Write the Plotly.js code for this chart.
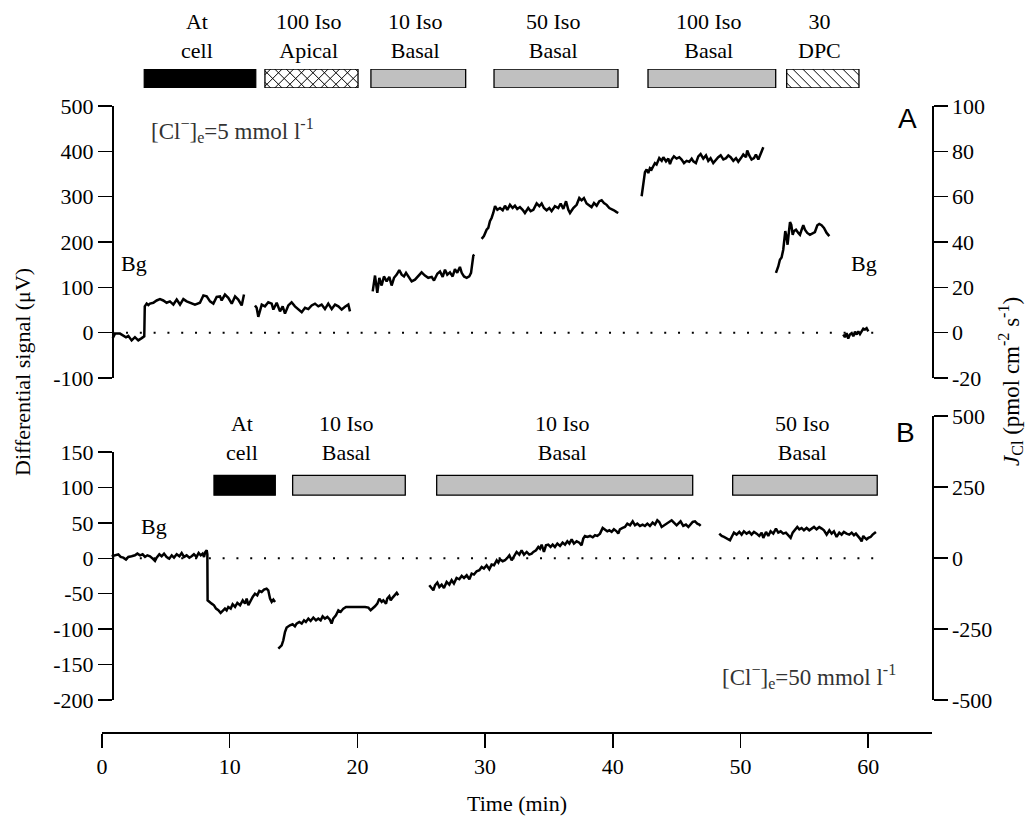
<!DOCTYPE html>
<html>
<head>
<meta charset="utf-8">
<script src="https://cdn.plot.ly/plotly-3.0.1.min.js"></script>
<style>html,body{margin:0;padding:0;background:#fff;}#chart{width:1031px;height:819px;}</style>
</head>
<body>
<div id="chart"></div>
<script>
// ---------------- DATA ----------------
// Panel A ([Cl-]e = 5 mmol l-1), time in min, differential signal in µV
const aBgCellT = [0.84,1.02,1.41,1.67,1.88,2.06,2.32,2.58,2.84,3.11,3.31,3.35,3.5,3.63,3.76,4.02,4.28,4.54,4.8,5.06,5.32,5.59,5.85,6.11,6.37,6.63,6.89,7.28,7.67,7.94,8.2,8.46,8.72,8.98,9.24,9.37,9.63,9.89,10.16,10.42,10.67,10.94,11.12];
const aBgCellV = [-12,-2,-2,-7,-10,-7,-17,-10,-17,-12,-8,58,64,61,64,66,71,74,71,66,69,62,73,62,74,69,66,62,66,82,80,69,64,79,80,71,84,77,64,80,73,60,84];
const aApicalT = [11.98,12.11,12.24,12.37,12.51,12.76,13.02,13.29,13.42,13.68,13.94,14.15,14.33,14.59,14.85,15.11,15.37,15.64,15.9,16.16,16.42,16.68,16.94,17.2,17.46,17.72,17.99,18.25,18.51,18.77,19.03,19.29,19.42];
const aApicalV = [60,55,35,51,62,58,67,64,51,66,47,58,42,60,67,58,52,45,55,52,60,64,58,62,52,64,52,62,58,51,57,62,47];
const aIso10T = [21.2,21.38,21.56,21.72,21.9,22.08,22.29,22.5,22.68,22.87,23.08,23.28,23.47,23.65,23.81,23.99,24.25,24.51,24.77,25.03,25.29,25.55,25.82,26,26.26,26.47,26.68,26.86,27.04,27.25,27.46,27.64,27.82,28.03,28.17,28.35,28.56,28.76,28.9,28.95,29.03,29.08,29.16];
const aIso10V = [91,126,88,121,104,124,113,123,104,121,128,138,128,124,132,123,113,117,124,133,126,121,123,115,130,135,123,139,128,133,124,140,132,145,132,124,121,124,132,143,157,170,172];
const aIso50T = [29.73,29.91,30.12,30.25,30.38,30.51,30.64,30.78,30.96,31.17,31.38,31.56,31.74,31.95,32.16,32.34,32.52,32.73,32.94,33.12,33.38,33.57,33.78,34.04,34.25,34.43,34.61,34.82,35.03,35.21,35.47,35.73,35.92,36.13,36.34,36.52,36.65,36.91,37.17,37.38,37.56,37.74,37.95,38.16,38.34,38.53,38.74,38.95,39.13,39.31,39.52,39.73,39.91,40.09,40.3,40.43];
const aIso50V = [207,213,227,231,246,253,264,279,271,275,270,280,271,282,275,280,273,277,271,264,275,268,271,285,279,285,275,270,275,268,279,275,285,273,290,271,264,275,282,297,292,297,285,280,277,286,280,290,292,286,282,275,273,270,266,264];
const aIso100T = [42.26,42.34,42.44,42.52,42.65,42.78,42.91,43.04,43.17,43.3,43.43,43.64,43.83,43.96,44.17,44.35,44.48,44.61,44.79,45,45.21,45.39,45.58,45.78,45.99,46.18,46.31,46.51,46.7,46.88,47.09,47.3,47.48,47.66,47.87,48.08,48.26,48.45,48.66,48.87,49.05,49.23,49.44,49.65,49.83,50.01,50.22,50.43,50.53,50.69,50.87,51.06,51.21,51.4,51.53,51.66,51.79];
const aIso100V = [301,316,341,354,360,352,363,360,367,374,371,385,379,387,378,384,372,382,389,384,387,382,374,379,377,384,378,374,389,394,384,391,379,385,374,382,387,391,382,385,391,387,379,385,377,384,393,387,402,391,382,385,393,382,391,400,409];
const aDpcT = [52.78,52.96,53.09,53.22,53.35,53.43,53.51,53.62,53.69,53.77,53.88,53.98,54.09,54.19,54.35,54.53,54.66,54.79,54.92,55.05,55.23,55.44,55.65,55.83,56.02,56.17,56.35,56.54,56.75,56.96];
const aDpcV = [132,146,161,166,183,202,224,209,194,216,244,238,216,224,227,220,216,227,237,227,220,216,220,222,237,240,237,231,220,213];
const aBgEndT = [58.05,58.18,58.31,58.44,58.57,58.71,58.84,58.97,59.1,59.23,59.36,59.49,59.62,59.75,59.88,60.01];
const aBgEndV = [-4,-10,-1,-13,-4,-1,-8,2,-4,3,-3,4,9,7,10,3];

// Panel B ([Cl-]e = 50 mmol l-1)
const bBgCellT = [0.76,1.02,1.28,1.46,1.67,1.88,2.06,2.32,2.58,2.77,2.98,3.18,3.37,3.55,3.76,3.97,4.15,4.28,4.49,4.67,4.86,5.06,5.27,5.46,5.64,5.85,6.06,6.24,6.42,6.63,6.84,7.02,7.2,7.41,7.57,7.73,7.88,7.99,8.09,8.2,8.25,
  8.27,8.4,8.59,8.77,8.93,9.11,9.29,9.45,9.63,9.76,9.89,10.08,10.23,10.42,10.6,10.81,11.02,11.2,11.33,11.46,11.59,11.8,11.98,12.16,12.32,12.5,12.69,12.89,13.02,13.16,13.29,13.42,13.55];
const bBgCellV = [2.8,4.2,5.6,1.9,0.9,-1.9,1.9,2.8,4.2,6.6,4.2,5.6,1.9,4.2,2.8,-0.5,-3.8,0.9,5.6,2.8,6.6,1.9,-0.5,4.2,0.9,5.6,2.8,7.5,1.9,4.2,0.9,2.8,5.6,1.9,7.5,4.2,6.6,1.9,8.9,11.3,5.6,
  -59.3,-61.6,-64,-66.3,-71,-73.4,-77.1,-74.3,-71,-73.4,-68.7,-71,-64.9,-68.7,-63,-66.3,-59.3,-64,-56.9,-66.3,-61.6,-54.6,-49.9,-52.2,-46.1,-47.5,-44.2,-42.8,-45.2,-56.9,-61.6,-58.3,-61.6];
const bIso10aT = [13.81,13.94,14.07,14.2,14.33,14.46,14.59,14.72,14.93,15.11,15.24,15.45,15.64,15.82,15.97,16.16,16.34,16.55,16.76,16.94,17.12,17.28,17.46,17.65,17.85,17.98,18.11,18.32,18.51,18.69,18.9,19.11,20.6,20.86,21.04,21.2,21.38,21.56,21.72,21.9,22.03,22.24,22.34,22.5,22.61,22.76,22.94,23.08,23.2];
const bIso10aV = [-127.5,-125.1,-122.8,-115.7,-104,-97.8,-96,-94.6,-93.1,-96,-92.2,-89.9,-92.2,-87.5,-89.9,-85.1,-88.4,-83.7,-87.5,-85.1,-87.5,-81.9,-85.1,-82.8,-86.6,-92.2,-85.1,-80.4,-73.4,-75.7,-71,-68.7,-68.7,-69.6,-73.4,-71,-67.7,-64,-56.9,-61.6,-59.3,-64,-56.9,-53.6,-59.3,-55.5,-52.2,-48.9,-52.2];
const bIso10bT = [25.63,25.82,25.95,26.08,26.26,26.42,26.6,26.78,26.99,27.2,27.38,27.56,27.77,27.98,28.17,28.35,28.56,28.77,28.95,29.13,29.34,29.55,29.73,29.91,30.12,30.33,30.51,30.7,30.91,31.04,31.17,31.38,31.56,31.74,31.9,32.08,32.26,32.47,32.68,32.86,33.05,33.26,33.46,33.65,33.78,33.99,34.17,34.3,34.43,34.61,34.77,34.95,35.13,35.29,35.47,35.66,35.87,36.07,36.26,36.44,36.6,36.78,36.96,37.17,37.38,37.56,37.69,37.82,38.01,38.22,38.43,38.61,38.79,39,39.21,39.39,39.57,39.73,39.91,40.09,40.3,40.43,40.56,40.77,40.95,41.14,41.35,41.56,41.74,41.92,42.13,42.34,42.52,42.71,42.91,43.12,43.3,43.49,43.64,43.83,44.01,44.22,44.43,44.61,44.79,45,45.13,45.31,45.52,45.73,45.92,46.1,46.26,46.44,46.62,46.78,46.88];
const bIso10bV = [-38.1,-42.8,-45.2,-38.1,-34.3,-40.5,-37.2,-41.9,-33.4,-37.2,-31,-35.7,-27.8,-29.6,-24.9,-27.8,-24,-29.6,-21.6,-23,-18.3,-16.9,-12.2,-14.6,-9.9,-15.5,-8.9,-9.9,-2.8,-6.1,-1.4,-4.2,-2.8,0.5,4.2,-2.8,3.3,8.9,5.2,11.3,5.2,8.9,5.2,6.6,8.9,11.3,16,13.6,19.3,8.9,18.3,19.3,16,19.3,16,20.7,17.4,22.1,19.3,24,20.7,26.8,20.7,24,22.1,18.3,27.8,31.5,30.1,31.5,29.6,32.5,31.5,34.8,42.8,40.9,38.1,39.5,37.2,40.9,38.1,34.8,40.9,42.8,44.2,48.9,46.6,52.2,46.6,48.9,45.6,47.5,45.6,48.9,45.6,50.3,47.5,53.6,51.3,44.2,46.6,48.9,51.3,53.6,50.3,46.6,48.9,52.2,45.6,47.5,44.2,48.9,51.3,52.2,48.9,47.5,45.6];
const bIso50T = [48.34,48.53,48.71,48.86,49.05,49.18,49.31,49.49,49.7,49.91,50.09,50.27,50.48,50.69,50.87,51.06,51.27,51.47,51.66,51.79,52,52.18,52.36,52.57,52.78,52.96,53.15,53.35,53.56,53.75,53.93,54.09,54.27,54.45,54.61,54.79,54.97,55.18,55.39,55.57,55.76,55.96,56.17,56.36,56.54,56.75,56.96,57.14,57.32,57.53,57.74,57.92,58.1,58.31,58.52,58.71,58.89,59.04,59.23,59.36,59.49,59.62,59.75,59.88,60.01,60.19,60.35,60.48,60.61];
const bIso50V = [34.8,31.5,30.1,28.7,27.8,25.4,30.1,36.2,33.4,37.2,33.4,38.1,34.8,37.2,33.4,37.2,34.8,31.5,36.2,28.7,37.2,31.5,38.1,34.8,41.9,36.2,38.1,34.8,36.2,32.5,28.7,36.2,39.5,44.2,40.9,42.8,39.5,42.8,39.5,41.9,44.2,40.9,44.2,41.9,39.5,33.4,39.5,34.8,38.1,30.1,36.2,33.4,37.2,34.8,33.4,36.2,32.5,34.8,31.5,27.8,24,31.5,28.7,26.8,28.7,30.1,33.4,34.8,37.2];

// Treatment periods (min) and their labels
const treatAStart = [3.31,12.76,21.06,30.70,42.76,53.62];
const treatAEnd   = [12.04,20.05,28.48,40.41,52.76,59.28];
const treatALabels = ['At<br>cell','100 Iso<br>Apical','10 Iso<br>Basal','50 Iso<br>Basal','100 Iso<br>Basal','30<br>DPC'];
const treatBStart = [8.77,14.93,26.21,49.39];
const treatBEnd   = [13.57,23.75,46.26,60.71];
const treatBLabels = ['At<br>cell','10 Iso<br>Basal','10 Iso<br>Basal','50 Iso<br>Basal'];

// Tick values / labels
const xTicks = [0,10,20,30,40,50,60];
const aLeftTicks = [-100,0,100,200,300,400,500];
const aRightTicks = [-20,0,20,40,60,80,100];
const bLeftTicks = [-200,-150,-100,-50,0,50,100,150];
const bRightTicks = [-500,-250,0,250,500];
const zeroLineSpan = [0.8, 61.2];

// ---------------- STYLE / LAYOUT ----------------
const W = 1031, H = 819, ML = 102, MR = 99, MT = 10, MB = 87;
const PW = W - ML - MR, PH = H - MT - MB;
const X_MAX = 65;
const pxX = p => (p - ML) / PW;
const pxY = p => (H - MB - p) / PH;
const SERIF = 'Liberation Serif, Times New Roman, serif';
const SANS = 'Liberation Sans, Arial, sans-serif';
const fillA = ['black','white','#c0c0c0','#c0c0c0','#c0c0c0','white'];
const hatchA = [null,'x',null,null,null,'\\'];   // hatch style of each treatment bar
const fillB = ['black','#c0c0c0','#c0c0c0','#c0c0c0'];
const lab = v => String(v);
const BAR_TOP_PX = 69, BAR_BOT_PX = 88;
const LABEL_SHIFT = -0.23; // labels sit slightly left of bar centres (min)

// hatch lines (45°) inside a bar of the top band, in x-data / y5 units
function hatchPath(x0, x1, spacingPx, dir) {
  const pxPerMin = PW / X_MAX, hPx = BAR_BOT_PX - BAR_TOP_PX;
  const k = pxPerMin / hPx;
  const w = 1 / k, step = spacingPx / pxPerMin;
  let d = '';
  for (let c = x0 - w + step / 2; c < x1; c += step) {
    const xa = Math.max(c, x0), xb = Math.min(c + w, x1);
    if (xb <= xa) continue;
    let ya = (xa - c) * k, yb = (xb - c) * k;
    if (dir < 0) { ya = 1 - ya; yb = 1 - yb; }
    d += 'M' + xa + ',' + ya + 'L' + xb + ',' + yb;
  }
  return d;
}

const lineStyle = {color:'black', width:2.5};
const traces = [];
[[aBgCellT,aBgCellV],[aApicalT,aApicalV],[aIso10T,aIso10V],[aIso50T,aIso50V],[aIso100T,aIso100V],[aDpcT,aDpcV],[aBgEndT,aBgEndV]]
  .forEach(([t,v]) => traces.push({type:'scatter', mode:'lines', x:t, y:v, xaxis:'x', yaxis:'y', line:lineStyle, hoverinfo:'skip', showlegend:false}));
[[bBgCellT,bBgCellV],[bIso10aT,bIso10aV],[bIso10bT,bIso10bV],[bIso50T,bIso50V]]
  .forEach(([t,v]) => traces.push({type:'scatter', mode:'lines', x:t, y:v, xaxis:'x', yaxis:'y2', line:lineStyle, hoverinfo:'skip', showlegend:false}));
traces.push({type:'scatter', x:[], y:[], xaxis:'x', yaxis:'y3', showlegend:false});
traces.push({type:'scatter', x:[], y:[], xaxis:'x', yaxis:'y4', showlegend:false});
traces.push({type:'bar', orientation:'h', base:treatAStart, x:treatAStart.map((s,i)=>treatAEnd[i]-s),
  y:treatAStart.map(()=>0.5), width:1, xaxis:'x', yaxis:'y5', hoverinfo:'skip', showlegend:false,
  marker:{color:fillA, line:{color:'black', width:1.3}}});
traces.push({type:'bar', orientation:'h', base:treatBStart, x:treatBStart.map((s,i)=>treatBEnd[i]-s),
  y:treatBStart.map(()=>103), width:28, xaxis:'x', yaxis:'y2', hoverinfo:'skip', showlegend:false,
  marker:{color:fillB, line:{color:'black', width:1.3}}});

const tickFont = {family:SERIF, size:22, color:'black'};
const yCommon = {showline:true, linecolor:'black', linewidth:1.5, ticks:'outside', ticklen:14, tickwidth:1.5, tickcolor:'black',
  showgrid:false, zeroline:false, tickfont:tickFont, fixedrange:true};

const annotations = [];
treatALabels.forEach((t,i) => annotations.push({xref:'x', yref:'paper', x:(treatAStart[i]+treatAEnd[i])/2 + LABEL_SHIFT, y:pxY(36),
  text:t, showarrow:false, font:{family:SERIF, size:22, color:'black'}, xanchor:'center', yanchor:'middle'}));
treatBLabels.forEach((t,i) => annotations.push({xref:'x', yref:'paper', x:(treatBStart[i]+treatBEnd[i])/2 + LABEL_SHIFT, y:pxY(438),
  text:t, showarrow:false, font:{family:SERIF, size:22, color:'black'}, xanchor:'center', yanchor:'middle'}));
const txt = (x,y,text,opt={}) => annotations.push(Object.assign({xref:'paper', yref:'paper', x:pxX(x), y:pxY(y), text:text,
  showarrow:false, font:{family:SERIF, size:22, color:'black'}, xanchor:'center', yanchor:'middle'}, opt));
txt(134, 263, 'Bg');
txt(864, 263, 'Bg');
txt(154, 526, 'Bg');
txt(907, 118, 'A', {font:{family:SANS, size:28, color:'black'}});
txt(905, 432, 'B', {font:{family:SANS, size:28, color:'black'}});
txt(149, 131, '[Cl<sup>−</sup>]<sub>e</sub>=5 mmol l<sup>-1</sup>', {xanchor:'left', font:{family:SERIF, size:23, color:'#333'}});
txt(720, 676, '[Cl<sup>−</sup>]<sub>e</sub>=50 mmol l<sup>-1</sup>', {xanchor:'left', font:{family:SERIF, size:23, color:'#333'}});
txt(22, 372, 'Differential signal (μV)', {textangle:-90});
txt(1010, 382, '<i>J</i><sub>Cl</sub> (pmol cm<sup>-2</sup> s<sup>-1</sup>)', {textangle:-90, font:{family:SERIF, size:23, color:'black'}});
txt(517, 803, 'Time (min)');

const dotted = {color:'black', width:2, dash:'2px,11.8px'};
const shapes = [
  {type:'line', xref:'x', yref:'y', x0:zeroLineSpan[0], x1:zeroLineSpan[1], y0:0, y1:0, line:dotted, layer:'below'},
  {type:'line', xref:'x', yref:'y2', x0:zeroLineSpan[0], x1:zeroLineSpan[1], y0:0, y1:0, line:dotted, layer:'below'}
];
hatchA.forEach((h,i) => {
  if (!h) return;
  const dirs = h === 'x' ? [1,-1] : [-1];
  const sp = h === 'x' ? 11.5 : 10;
  dirs.forEach(dir => shapes.push({type:'path', xref:'x', yref:'y5', path:hatchPath(treatAStart[i], treatAEnd[i], sp, dir),
    line:{color:'black', width:1}, layer:'above'}));
});

const layout = {
  width:W, height:H, margin:{l:ML, r:MR, t:MT, b:MB}, paper_bgcolor:'white', plot_bgcolor:'rgba(0,0,0,0)',
  showlegend:false, hovermode:false, font:{family:SERIF, size:22, color:'black'},
  xaxis:{range:[0,X_MAX], anchor:'free', position:0, showline:true, linecolor:'black', linewidth:1.5, ticks:'outside', ticklen:14,
    tickwidth:1.5, tickcolor:'black', tickvals:xTicks, ticktext:xTicks.map(lab), showgrid:false, zeroline:false, tickfont:tickFont},
  yaxis:Object.assign({}, yCommon, {domain:[pxY(378), pxY(106)], range:[-100,500], anchor:'free', position:pxX(112),
    tickvals:aLeftTicks, ticktext:aLeftTicks.map(lab)}),
  yaxis3:Object.assign({}, yCommon, {overlaying:'y', side:'right', range:[-20,100], anchor:'free', position:1,
    tickvals:aRightTicks, ticktext:aRightTicks.map(lab)}),
  yaxis2:Object.assign({}, yCommon, {domain:[pxY(700), pxY(452)], range:[-200,150], anchor:'free', position:pxX(112),
    tickvals:bLeftTicks, ticktext:bLeftTicks.map(lab)}),
  yaxis4:Object.assign({}, yCommon, {domain:[pxY(700), pxY(416)], side:'right', range:[-500,500], anchor:'free', position:1,
    tickvals:bRightTicks, ticktext:bRightTicks.map(lab)}),
  yaxis5:{domain:[pxY(BAR_BOT_PX), pxY(BAR_TOP_PX)], range:[0,1], visible:false, fixedrange:true, anchor:'free', position:0},
  shapes:shapes,
  annotations:annotations
};
Plotly.newPlot('chart', traces, layout, {staticPlot:true, displayModeBar:false});
</script>
</body>
</html>
